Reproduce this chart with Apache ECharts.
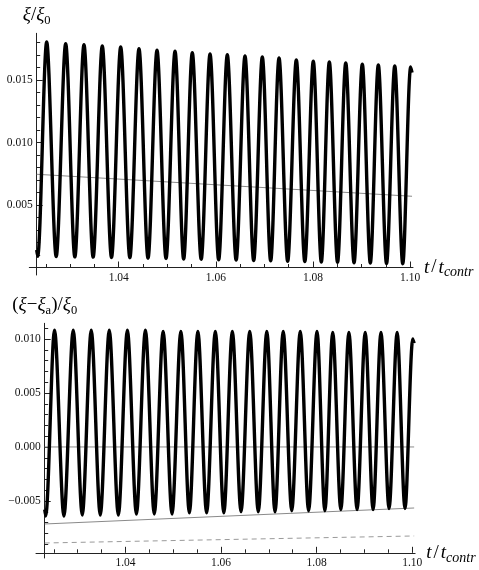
<!DOCTYPE html>
<html><head><meta charset="utf-8">
<script src="https://cdn.jsdelivr.net/npm/echarts@6/dist/echarts.min.js"></script>
<style>html,body{margin:0;padding:0;background:#fff}#c{width:479px;height:570px}</style>
</head><body><div id="c"></div>
<script>
// ---- data ----
const startT = 1.0231, endT = 1.1004;
const troughT = [1.0233, 1.02712, 1.03096, 1.03473, 1.03851, 1.04229, 1.04603, 1.04974, 1.05337, 1.05698, 1.06058,
  1.06418, 1.06779, 1.07129, 1.07479, 1.07832, 1.08172, 1.08506, 1.08846, 1.09181, 1.09515, 1.09849];
const peakT = [1.02516, 1.02907, 1.03284, 1.03661, 1.0404, 1.04417, 1.04788, 1.05159, 1.05515, 1.0588, 1.06236,
  1.066, 1.06957, 1.07301, 1.07657, 1.08007, 1.08337, 1.08675, 1.09016, 1.09346, 1.09684, 1.10013];
// upper panel  xi/xi0
const startTop = 0.0014, endTop = 0.0156;
const troughTop = [0.0009, 0.00088, 0.00085, 0.00083, 0.0008, 0.00078, 0.00074, 0.00072, 0.00068, 0.00066, 0.00062,
  0.0006, 0.00056, 0.00054, 0.0005, 0.00047, 0.00044, 0.00042, 0.00038, 0.00036, 0.00032, 0.0003];
const peakTop = [0.01804, 0.0179, 0.01782, 0.01772, 0.01764, 0.0175, 0.01738, 0.0173, 0.01718, 0.01708, 0.01702,
  0.01692, 0.01684, 0.01676, 0.0166, 0.0165, 0.01644, 0.01636, 0.01626, 0.0162, 0.01612, 0.01604];
const xiaLineT = [1.0231, 1.1004];
const xiaLineTop = [0.00746, 0.0057];
// lower panel (xi - xi_a)/xi0
const startBottom = -0.0058, endBottom = 0.0096;
const troughBottom = [-0.0064, -0.0064, -0.0063, -0.0063, -0.0063, -0.0062, -0.0062, -0.0062, -0.0061, -0.0061, -0.0061,
  -0.006, -0.006, -0.006, -0.0059, -0.0059, -0.0059, -0.0058, -0.0058, -0.0058, -0.0057, -0.0057];
const peakBottom = [0.0108, 0.0108, 0.0108, 0.0108, 0.0108, 0.0108, 0.0107, 0.0107, 0.0107, 0.0107, 0.0107,
  0.0107, 0.0107, 0.0107, 0.0107, 0.0107, 0.0106, 0.0106, 0.0106, 0.0106, 0.0106, 0.0100];
const zeroLineBottom = [0, 0];
const solidLineBottom = [-0.00713, -0.00565];
const dashedLineBottom = [-0.00889, -0.00824];
// ticks
const xMajor = [1.04, 1.06, 1.08, 1.10];
const xMinor = [1.025, 1.03, 1.035, 1.045, 1.05, 1.055, 1.065, 1.07, 1.075, 1.085, 1.09, 1.095];
const yTopMajor = [0.005, 0.010, 0.015];
const yTopMinor = [0.001, 0.002, 0.003, 0.004, 0.006, 0.007, 0.008, 0.009, 0.011, 0.012, 0.013, 0.014, 0.016, 0.017, 0.018];
const yBotMajor = [-0.005, 0, 0.005, 0.010];
const yBotMinor = [-0.009, -0.008, -0.007, -0.006, -0.004, -0.003, -0.002, -0.001, 0.001, 0.002, 0.003, 0.004,
  0.006, 0.007, 0.008, 0.009, 0.011];

// ---- build curves ----
function curve(s, e, tr, pk) {
  const d = [[startT, s]];
  for (let i = 0; i < troughT.length; i++) { d.push([troughT[i], tr[i]]); d.push([peakT[i], pk[i]]); }
  d.push([endT, e]);
  return d;
}
const topCurve = curve(startTop, endTop, troughTop, peakTop);
const botCurve = curve(startBottom, endBottom, troughBottom, peakBottom);
const pair = (xs, ys) => xs.map((x, i) => [x, ys[i]]);

// ---- layout ----
const SERIF = '"Liberation Serif", "DejaVu Serif", serif';
const G = [
  { left: 29.3, top: 33.3, width: 383.7, height: 241.7, xmin: 1.02158, xmax: 1.1006, ymin: -0.0006, ymax: 0.01874, ya: 0 },
  { left: 36, top: 323.3, width: 379.1, height: 234.7, xmin: 1.02128, xmax: 1.1006, ymin: -0.01028, ymax: 0.01145, ya: -0.0098 }
];
G.forEach(g => {
  g.yOff = -(startT - g.xmin) / (g.xmax - g.xmin) * g.width;
  g.xOff = -(g.ya - g.ymin) / (g.ymax - g.ymin) * g.height;
});
const fmt = v => { const s = Math.abs(v).toFixed(3); return (v < -1e-12 ? '\u2212' : '') + s; };
const lblStyle = { fontFamily: SERIF, fontSize: 11.5, color: '#111' };
const rich = {
  m: { fontFamily: SERIF, fontStyle: 'italic', fontSize: 19, color: '#000', lineHeight: 24, verticalAlign: 'middle' },
  n: { fontFamily: SERIF, fontSize: 19, color: '#000', lineHeight: 24, verticalAlign: 'middle' },
  s: { fontFamily: SERIF, fontSize: 12.5, color: '#000', lineHeight: 14, verticalAlign: 'bottom' },
  sl: { fontFamily: SERIF, fontSize: 19, color: '#000', lineHeight: 24, verticalAlign: 'middle', padding: [0, 2, 0, 2] },
  si: { fontFamily: SERIF, fontStyle: 'italic', fontSize: 14, color: '#000', lineHeight: 14, verticalAlign: 'bottom' }
};
const axisLine = { show: true, onZero: false, lineStyle: { color: '#222', width: 1 } };

function xAxes(gi) {
  const g = G[gi];
  return [
    { gridIndex: gi, type: 'value', position: 'bottom', min: g.xmin, max: g.xmax, offset: g.xOff, axisLine,
      axisTick: { show: true, inside: true, length: 6, customValues: xMajor, lineStyle: { color: '#222' } },
      axisLabel: { show: true, margin: 4, customValues: xMajor, formatter: v => v.toFixed(2), ...lblStyle },
      splitLine: { show: false },
      name: '{m|t}{sl|/}{m|t}{si|contr}', nameLocation: 'end', nameGap: 5,
      nameTextStyle: { rich } },
    { gridIndex: gi, type: 'value', position: 'bottom', min: g.xmin, max: g.xmax, offset: g.xOff,
      axisLine: { show: false, onZero: false },
      axisTick: { show: true, inside: true, length: 3.5, customValues: xMinor, lineStyle: { color: '#222' } },
      axisLabel: { show: false }, splitLine: { show: false } }
  ];
}
function yAxes(gi, major, minor, name) {
  const g = G[gi];
  return [
    { gridIndex: gi, type: 'value', position: 'left', min: g.ymin, max: g.ymax, offset: g.yOff, axisLine,
      axisTick: { show: true, inside: true, length: 6, customValues: major, lineStyle: { color: '#222' } },
      axisLabel: { show: true, margin: 4, customValues: major, formatter: fmt, ...lblStyle },
      splitLine: { show: false },
      name, nameLocation: 'end', nameGap: 6, nameTextStyle: { rich } },
    { gridIndex: gi, type: 'value', position: 'left', min: g.ymin, max: g.ymax, offset: g.yOff,
      axisLine: { show: false, onZero: false },
      axisTick: { show: true, inside: true, length: 3.5, customValues: minor, lineStyle: { color: '#222' } },
      axisLabel: { show: false }, splitLine: { show: false } }
  ];
}

const thin = (c, type) => ({ color: c, width: 1, type: type || 'solid' });
const option = {
  animation: false,
  backgroundColor: '#fff',
  grid: G.map(g => ({ left: g.left, top: g.top, width: g.width, height: g.height, containLabel: false })),
  xAxis: [...xAxes(0), ...xAxes(1)],
  yAxis: [...yAxes(0, yTopMajor, yTopMinor, '{m|ξ}{n|/}{m|ξ}{s|0}'),
          ...yAxes(1, yBotMajor, yBotMinor, '{n|(}{m|ξ}{n|\u2212}{m|ξ}{s|a}{n|)/}{m|ξ}{s|0}')],
  series: [
    { type: 'line', xAxisIndex: 0, yAxisIndex: 0, data: pair(xiaLineT, xiaLineTop), showSymbol: false,
      lineStyle: thin('#8a8a8a'), z: 1 },
    { type: 'line', xAxisIndex: 0, yAxisIndex: 0, data: topCurve, smooth: 0.32, showSymbol: false,
      lineStyle: { color: '#000', width: 3.4 }, z: 2 },
    { type: 'line', xAxisIndex: 2, yAxisIndex: 2, data: pair(xiaLineT, zeroLineBottom), showSymbol: false,
      lineStyle: thin('#8a8a8a'), z: 1 },
    { type: 'line', xAxisIndex: 2, yAxisIndex: 2, data: pair(xiaLineT, solidLineBottom), showSymbol: false,
      lineStyle: thin('#8a8a8a'), z: 1 },
    { type: 'line', xAxisIndex: 2, yAxisIndex: 2, data: pair(xiaLineT, dashedLineBottom), showSymbol: false,
      lineStyle: thin('#9a9a9a', [5, 4]), z: 1 },
    { type: 'line', xAxisIndex: 2, yAxisIndex: 2, data: botCurve, smooth: 0.32, showSymbol: false,
      lineStyle: { color: '#000', width: 3.4 }, z: 2 }
  ]
};
const chart = echarts.init(document.getElementById('c'), null, { renderer: 'canvas' });
chart.setOption(option);
</script></body></html>
